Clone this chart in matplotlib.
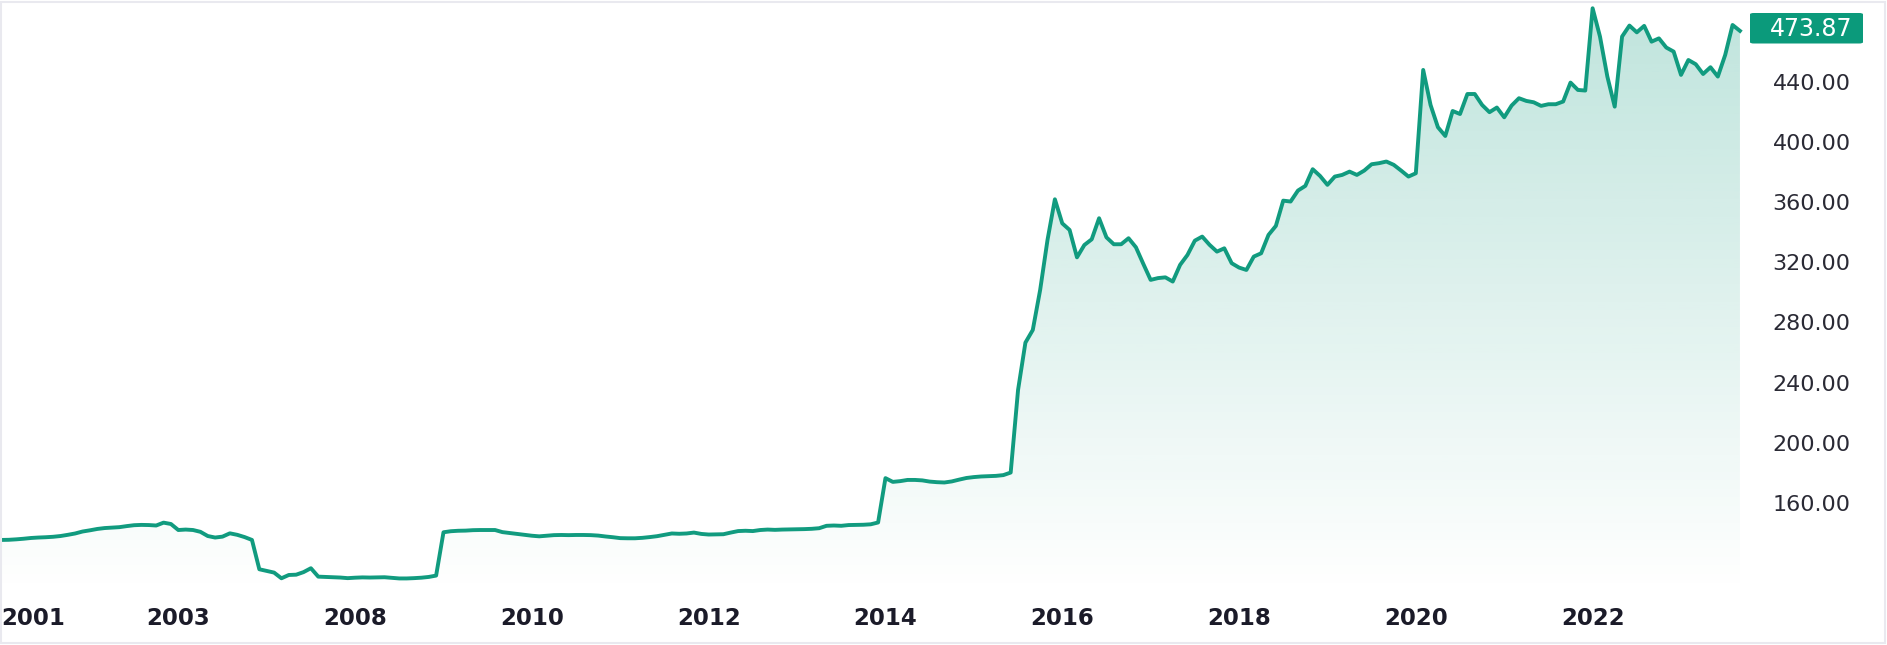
import numpy as np
import matplotlib
matplotlib.use("Agg")
import matplotlib.pyplot as plt
from matplotlib.patches import Rectangle, FancyBboxPatch

# monthly closing values
prices = [
    135.4, 135.5, 135.8, 136.2, 136.7, 137.0, 137.2, 137.5, 138.0, 138.8,
    139.7, 141.0, 141.8, 142.7, 143.3, 143.6, 143.9, 144.6, 145.2, 145.4,
    145.3, 145.0, 146.9, 146.0, 142.0, 142.3, 142.0, 140.8, 138.0, 137.0,
    137.6, 139.8, 138.8, 137.3, 135.4, 115.9, 114.8, 113.7, 109.9, 112.1,
    112.3, 114.0, 116.6, 111.0, 110.8, 110.6, 110.4, 110.0, 110.3, 110.5,
    110.4, 110.5, 110.6, 110.2, 109.8, 109.8, 110.0, 110.3, 110.8, 111.7,
    140.5, 141.2, 141.5, 141.6, 141.9, 142.0, 142.0, 142.0, 140.6, 140.0,
    139.4, 138.8, 138.2, 137.8, 138.2, 138.6, 138.7, 138.6, 138.7, 138.7,
    138.6, 138.3, 137.7, 137.2, 136.6, 136.5, 136.5, 136.8, 137.3, 137.9,
    138.8, 139.7, 139.5, 139.7, 140.3, 139.4, 139.0, 139.1, 139.2, 140.3,
    141.3, 141.5, 141.3, 142.0, 142.3, 142.1, 142.3, 142.4, 142.5, 142.6,
    142.8, 143.2, 144.8, 145.0, 144.8, 145.3, 145.4, 145.5, 145.8, 147.0,
    176.5, 174.0, 174.5, 175.3, 175.3, 175.0, 174.2, 173.8, 173.6, 174.3,
    175.5, 176.6, 177.2, 177.6, 177.8, 178.0, 178.5, 180.2, 235.1, 266.6,
    275.0, 301.6, 334.9, 361.9, 345.9, 341.5, 323.3, 331.5, 335.3, 349.3,
    336.6, 332.0, 332.0, 336.0, 330.0, 319.0, 308.3, 309.5, 310.0, 307.2,
    318.3, 324.9, 334.4, 337.1, 331.6, 327.1, 329.3, 319.4, 316.5, 314.9,
    323.8, 326.0, 338.2, 344.2, 361.0, 360.4, 367.7, 370.8, 381.9, 377.4,
    371.5, 377.0, 378.1, 380.3, 378.1, 381.0, 385.2, 385.9, 387.0, 384.8,
    381.0, 377.0, 379.2, 447.9, 424.6, 409.8, 404.0, 420.6, 418.6, 431.9,
    431.9, 424.6, 419.8, 422.9, 416.4, 424.2, 429.1, 427.3, 426.4, 424.0,
    425.1, 425.1, 426.9, 439.5, 434.6, 434.2, 488.9, 470.1, 443.5, 423.5,
    470.1, 477.4, 472.9, 477.2, 466.7, 468.9, 462.8, 460.1, 444.6, 454.5,
    451.7, 445.2, 449.7, 443.5, 457.9, 477.8, 473.87,
]
years = ['2001', '2003', '2008', '2010', '2012', '2014', '2016', '2018', '2020', '2022']
y_ticks = [160, 200, 240, 280, 320, 360, 400, 440, 480]

line_color = '#119b7f'
x = np.arange(len(prices))

fig = plt.figure(figsize=(18.87, 6.45), dpi=100)
ax = fig.add_axes([0.0008, 0.0822, 0.9240, 0.9101])
ax.set_xlim(0, 236.7)
ax.set_ylim(100.8, 491.1)

# gradient fill under the line
poly = ax.fill_between(x, prices, 0, color='none')
grad = np.zeros((256, 1, 4))
rgb = matplotlib.colors.to_rgb(line_color)
grad[:, 0, 0:3] = rgb
grad[:, 0, 3] = np.linspace(0.0, 0.27, 256)
img = ax.imshow(grad, aspect='auto', origin='lower',
                extent=[0, len(prices) - 1, 100.8, 491.1], zorder=1)
img.set_clip_path(poly.get_paths()[0], transform=ax.transData)

ax.plot(x, prices, color=line_color, linewidth=2.8, zorder=3)

for s in ax.spines.values():
    s.set_visible(False)

# x ticks every 24 months
ax.set_xticks(np.arange(len(years)) * 24)
ax.set_xticklabels(years)
ax.tick_params(axis='x', length=0, pad=11, labelsize=16.5, labelcolor='#1b1b29')
for lab in ax.get_xticklabels():
    lab.set_fontweight('bold')
ax.get_xticklabels()[0].set_horizontalalignment('left')

ax.yaxis.tick_right()
ax.set_yticks(y_ticks)
ax.set_yticklabels([f'{v:.2f}' for v in y_ticks])
ax.tick_params(axis='y', length=0, pad=76, labelsize=16, labelcolor='#2a2a35')
for lab in ax.get_yticklabels():
    lab.set_horizontalalignment('right')

# last value badge
last = prices[-1]
fig.patches.append(FancyBboxPatch((1750 / 1887, 1 - 43.5 / 645), 113 / 1887, 30.5 / 645,
                                  boxstyle='round,pad=0,rounding_size=0.002',
                                  transform=fig.transFigure, facecolor='#0b9a7b',
                                  edgecolor='none', zorder=5))
fig.text(1852 / 1887, 1 - 28.5 / 645, f'{last:.2f}', color='white', fontsize=17,
         ha='right', va='center', zorder=6)

# light outer frame
fig.patches.append(Rectangle((0.0005, 0.003), 0.9985, 0.994, transform=fig.transFigure,
                             facecolor='none', edgecolor='#e9e9ef', linewidth=1.5, zorder=0))

fig.savefig('out.png', dpi=100)
